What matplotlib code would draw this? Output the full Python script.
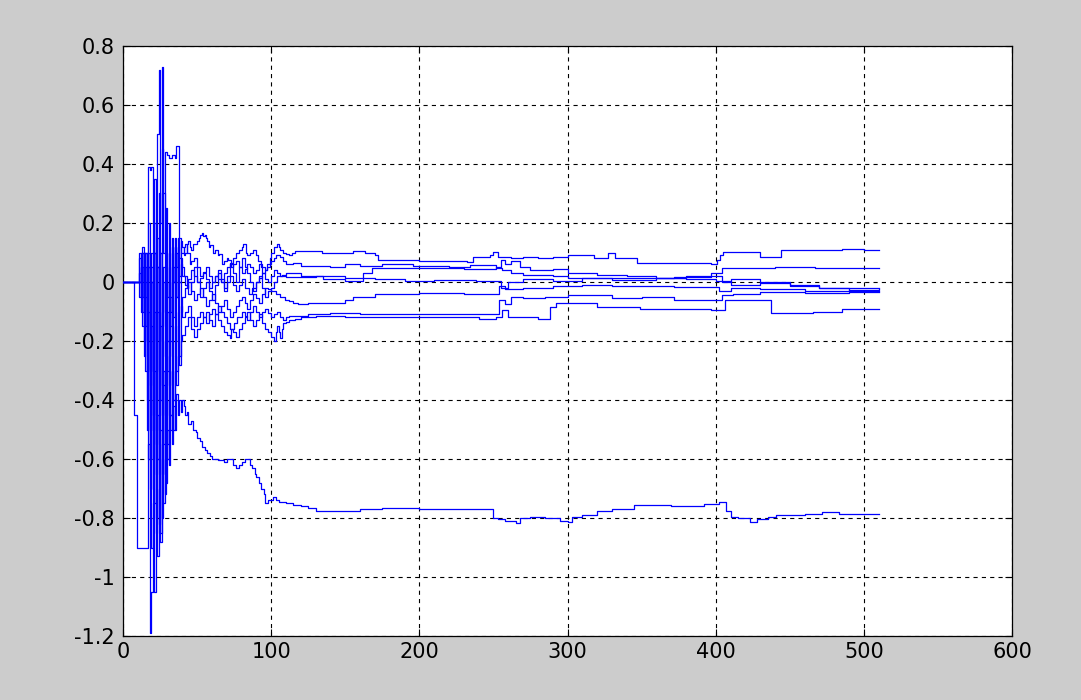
import matplotlib
matplotlib.use("Agg")
import matplotlib.pyplot as plt

plt.rcParams["axes.unicode_minus"] = False
plt.rcParams["lines.scale_dashes"] = False

# x positions of the noisy start (one sample per step)
early_x = list(range(10, 40))

# --- run 0: the one that settles near -0.79 ---
run0_head = [(0, 0.0), (7.5, -0.45), (9.5, -0.9)]
run0_early = [-0.9, -0.9, -0.9, -0.9, -0.9, -0.9, -0.9, -0.55, -1.19, -1.05,
              -0.75, -1.05, -0.7, -0.93, -0.6, -0.88, -0.55, -0.75, -0.6, -0.68,
              -0.5, -0.62, -0.45, -0.55, -0.42, -0.5, -0.38, -0.45, -0.4, -0.44]
run0_tail = [(40, -0.4), (41, -0.42), (42, -0.45), (43, -0.44), (44, -0.48), (46, -0.47),
             (47, -0.5), (49, -0.51), (50, -0.53), (52, -0.54), (53, -0.56), (55, -0.57),
             (57, -0.58), (59, -0.59), (60, -0.6), (64, -0.605), (68, -0.61), (70, -0.6),
             (74, -0.62), (76, -0.63), (78, -0.62), (80, -0.61), (82, -0.6), (86, -0.62),
             (87, -0.63), (89, -0.65), (90, -0.66), (92, -0.68), (93, -0.7), (95, -0.72),
             (96, -0.75), (98, -0.74), (101, -0.73), (103, -0.74), (105, -0.745),
             (110, -0.75), (115, -0.755), (120, -0.76), (125, -0.765), (130, -0.775),
             (160, -0.77), (175, -0.765), (200, -0.77), (250, -0.8), (253, -0.805),
             (258, -0.81), (265, -0.817), (268, -0.8), (275, -0.795), (285, -0.8),
             (295, -0.81), (300, -0.815), (303, -0.795), (310, -0.79), (320, -0.775),
             (330, -0.77), (345, -0.755), (370, -0.758), (392, -0.752), (402, -0.745),
             (407, -0.775), (410, -0.795), (415, -0.8), (423, -0.815), (428, -0.805),
             (435, -0.795), (441, -0.79), (460, -0.785), (472, -0.78), (483, -0.788),
             (510, -0.788)]

# --- run 1: top one, ends near 0.107 ---
run1_early = [0.0, 0.08, -0.1, 0.1, -0.25, 0.05, -0.4, 0.2, -0.6, 0.1,
              -0.3, 0.35, -0.2, 0.5, 0.72, 0.2, 0.73, 0.3, -0.1, 0.25,
              -0.05, 0.2, -0.1, 0.15, 0.0, 0.12, 0.05, 0.15, 0.08, 0.14]
run1_tail = [(40, 0.12), (41, 0.09), (42, 0.1), (43, 0.13), (44, 0.14), (45, 0.12),
             (46, 0.11), (47, 0.13), (50, 0.14), (51, 0.15), (52, 0.16), (53, 0.166),
             (54, 0.155), (55, 0.16), (56, 0.15), (57, 0.14), (58, 0.12), (59, 0.125),
             (61, 0.1), (62, 0.11), (64, 0.09), (65, 0.095), (67, 0.06), (68, 0.07),
             (70, 0.08), (71, 0.075), (73, 0.05), (74, 0.06), (76, 0.07), (78, 0.05),
             (80, 0.03), (82, 0.045), (84, 0.06), (86, 0.05), (88, 0.03), (90, 0.04),
             (92, 0.06), (94, 0.05), (96, 0.04), (97, 0.06), (99, 0.08), (100, 0.1),
             (102, 0.12), (104, 0.13), (105, 0.12), (106, 0.11), (108, 0.1),
             (110, 0.095), (112, 0.09), (114, 0.1), (116, 0.105), (134, 0.097),
             (155, 0.105), (163, 0.097), (170, 0.09), (172, 0.075), (200, 0.072),
             (215, 0.07), (232, 0.068), (236, 0.086), (248, 0.09), (250, 0.103),
             (253, 0.085), (262, 0.08), (270, 0.086), (280, 0.08), (290, 0.085),
             (300, 0.09), (318, 0.08), (327, 0.097), (332, 0.08), (347, 0.063),
             (397, 0.06), (401, 0.075), (403, 0.09), (405, 0.103), (430, 0.086),
             (444, 0.108), (485, 0.112), (500, 0.107), (510, 0.107)]

# --- run 2: ends near 0.046 ---
run2_early = [0.0, 0.0, 0.05, -0.05, 0.1, -0.15, 0.05, 0.39, 0.38, 0.39,
              -0.5, 0.1, -0.65, 0.05, -0.3, 0.1, -0.45, 0.0, -0.25, 0.05,
              -0.2, 0.1, -0.15, 0.12, 0.0, 0.15, -0.05, 0.1, 0.0, 0.08]
run2_tail = [(40, 0.05), (41, 0.02), (43, -0.02), (44, 0.01), (46, 0.04), (48, 0.02),
             (50, 0.0), (52, 0.015), (54, 0.03), (56, 0.01), (58, -0.02), (60, 0.0),
             (62, 0.02), (64, 0.01), (66, 0.0), (68, 0.03), (70, 0.05), (72, 0.065),
             (74, 0.08), (76, 0.1), (78, 0.11), (80, 0.12), (81, 0.13), (83, 0.1),
             (84, 0.09), (86, 0.1), (88, 0.11), (90, 0.09), (91, 0.07), (93, 0.05),
             (94, 0.03), (96, 0.04), (97, 0.05), (99, 0.06), (100, 0.07), (102, 0.08),
             (103, 0.09), (106, 0.085), (108, 0.07), (110, 0.06), (115, 0.065),
             (120, 0.055), (140, 0.05), (150, 0.06), (160, 0.055), (175, 0.06),
             (196, 0.055), (220, 0.05), (234, 0.058), (252, 0.046), (256, 0.04),
             (262, 0.03), (270, 0.024), (290, 0.02), (300, 0.015), (330, 0.015),
             (372, 0.018), (397, 0.029), (404, 0.046), (440, 0.052), (467, 0.046),
             (510, 0.046)]

# --- run 3: the 0.44 plateau, ends near -0.02 ---
run3_early = [0.0, 0.0, -0.05, 0.05, -0.2, 0.1, -0.5, -0.1, -0.7, 0.0,
              -0.45, 0.2, -0.8, -0.1, 0.3, -0.4, 0.45, 0.1, 0.44, 0.44,
              0.43, 0.42, 0.42, 0.43, 0.43, 0.42, 0.46, 0.46, 0.15, 0.1]
run3_tail = [(40, 0.1), (41, 0.12), (42, 0.13), (43, 0.1), (45, 0.06), (46, 0.07),
             (48, 0.08), (50, 0.05), (52, 0.02), (54, 0.035), (56, 0.05), (58, 0.02),
             (60, 0.0), (62, 0.02), (64, 0.04), (66, 0.01), (68, -0.02), (70, 0.0),
             (72, 0.02), (74, -0.01), (76, -0.03), (78, -0.01), (80, 0.01), (82, -0.02),
             (85, -0.04), (87, -0.02), (90, 0.0), (92, 0.015), (94, 0.03), (96, 0.01),
             (98, 0.0), (100, 0.02), (102, 0.04), (104, 0.03), (106, 0.02),
             (110, 0.018), (130, 0.02), (150, 0.015), (170, 0.01), (190, 0.005),
             (210, 0.008), (238, 0.005), (255, -0.02), (260, 0.0), (270, 0.01),
             (290, 0.005), (310, 0.012), (330, 0.008), (360, 0.015), (380, 0.01),
             (400, 0.005), (410, -0.01), (430, -0.005), (450, -0.015), (470, -0.02),
             (490, -0.022), (510, -0.02)]

# --- run 4: ends near -0.025 ---
run4_early = [0.0, -0.05, 0.1, -0.15, 0.05, -0.3, 0.1, -0.6, -0.2, -0.9,
              -0.4, -0.75, -0.2, -0.6, -0.1, -0.85, -0.3, -0.55, -0.2, -0.45,
              -0.1, -0.35, -0.05, -0.25, 0.05, -0.2, 0.1, -0.15, 0.0, -0.1]
run4_tail = [(40, -0.05), (42, -0.02), (44, 0.0), (46, -0.03), (48, -0.06), (50, -0.04),
             (52, -0.02), (54, -0.05), (56, -0.08), (58, -0.06), (60, -0.04), (62, -0.07),
             (64, -0.1), (66, -0.08), (68, -0.06), (70, -0.09), (72, -0.12), (74, -0.1),
             (76, -0.08), (78, -0.06), (80, -0.05), (82, -0.07), (84, -0.09), (86, -0.06),
             (88, -0.04), (90, -0.055), (92, -0.07), (94, -0.04), (96, -0.02),
             (98, -0.025), (100, -0.03), (103, -0.04), (106, -0.05), (109, -0.06),
             (112, -0.065), (115, -0.07), (118, -0.075), (125, -0.072), (135, -0.07),
             (150, -0.06), (155, -0.05), (170, -0.04), (200, -0.038), (230, -0.04),
             (252, -0.04), (254, -0.015), (258, -0.025), (270, -0.02), (290, -0.015),
             (310, -0.01), (330, -0.015), (350, -0.012), (372, -0.016), (402, -0.03),
             (410, -0.02), (430, -0.025), (460, -0.03), (490, -0.028), (510, -0.025)]

# --- run 5: ends near -0.035 ---
run5_early = [0.0, 0.0, 0.05, -0.1, 0.1, -0.05, -0.3, 0.05, -0.5, -0.15,
              -0.7, -0.3, -0.55, 0.05, -0.5, -0.15, -0.65, -0.3, -0.72, -0.4,
              -0.6, -0.3, -0.5, -0.2, -0.4, -0.15, -0.3, -0.1, -0.25, -0.08]
run5_tail = [(40, -0.12), (42, -0.1), (44, -0.08), (46, -0.12), (48, -0.15), (50, -0.12),
             (52, -0.1), (54, -0.12), (56, -0.14), (58, -0.11), (60, -0.09), (62, -0.11),
             (64, -0.13), (66, -0.15), (68, -0.17), (70, -0.18), (72, -0.19), (73, -0.16),
             (75, -0.14), (77, -0.12), (80, -0.1), (82, -0.115), (84, -0.13), (86, -0.1),
             (88, -0.08), (90, -0.1), (92, -0.12), (94, -0.1), (96, -0.09), (98, -0.105),
             (100, -0.12), (102, -0.11), (104, -0.1), (106, -0.12), (108, -0.13),
             (110, -0.12), (112, -0.115), (125, -0.11), (140, -0.105), (160, -0.11),
             (180, -0.108), (200, -0.11), (230, -0.108), (252, -0.11), (254, -0.06),
             (258, -0.075), (262, -0.05), (270, -0.055), (285, -0.05), (300, -0.045),
             (330, -0.055), (350, -0.05), (372, -0.06), (404, -0.045), (412, -0.04),
             (430, -0.035), (460, -0.038), (490, -0.035), (510, -0.035)]

# --- run 6: ends near -0.09 ---
run6_early = [0.0, 0.03, -0.05, 0.1, -0.1, 0.0, -0.2, 0.1, -0.35, 0.05,
              -0.6, -0.1, -0.85, -0.45, -0.82, -0.5, -0.8, -0.35, -0.65, -0.25,
              -0.55, -0.2, -0.45, -0.3, -0.5, -0.25, -0.35, -0.15, -0.28, -0.2]
run6_tail = [(40, -0.18), (42, -0.15), (44, -0.12), (46, -0.16), (48, -0.185), (50, -0.16),
             (52, -0.14), (54, -0.12), (56, -0.1), (58, -0.13), (60, -0.15), (62, -0.11),
             (64, -0.08), (66, -0.1), (68, -0.12), (70, -0.14), (72, -0.16), (74, -0.17),
             (76, -0.185), (78, -0.16), (80, -0.14), (82, -0.12), (84, -0.1), (86, -0.13),
             (88, -0.15), (90, -0.13), (92, -0.11), (94, -0.14), (96, -0.16), (98, -0.17),
             (100, -0.185), (102, -0.2), (103, -0.17), (104, -0.15), (105, -0.17),
             (106, -0.19), (107, -0.16), (108, -0.14), (110, -0.135), (112, -0.13),
             (116, -0.125), (120, -0.12), (130, -0.115), (150, -0.12), (180, -0.118),
             (210, -0.12), (240, -0.125), (252, -0.12), (256, -0.095), (260, -0.12),
             (280, -0.125), (288, -0.085), (292, -0.072), (320, -0.085), (349, -0.09),
             (397, -0.095), (406, -0.06), (437, -0.106), (466, -0.1), (485, -0.09),
             (510, -0.09)]

# --- run 7: ends near -0.03 ---
run7_early = [0.0, 0.1, -0.05, 0.12, 0.0, 0.1, -0.15, 0.05, -0.3, 0.0,
              -0.2, 0.1, -0.4, 0.15, -0.2, 0.1, -0.35, 0.05, -0.15, 0.1,
              -0.3, 0.0, -0.2, 0.05, -0.12, 0.1, -0.05, 0.12, 0.02, 0.06]
run7_tail = [(40, 0.02), (42, -0.01), (44, -0.04), (46, 0.0), (48, 0.05), (50, 0.0),
             (52, -0.05), (54, -0.02), (56, 0.0), (58, -0.03), (60, -0.06), (62, -0.01),
             (64, 0.03), (66, 0.0), (68, -0.03), (70, 0.02), (72, 0.06), (74, 0.03),
             (76, 0.0), (78, 0.05), (80, 0.08), (82, 0.05), (84, 0.03), (86, 0.0),
             (88, -0.03), (90, 0.0), (92, 0.02), (94, -0.02), (96, -0.05), (98, -0.03),
             (100, -0.02), (102, 0.0), (104, 0.02), (107, 0.025), (110, 0.03),
             (120, 0.02), (135, 0.01), (150, 0.005), (162, 0.03), (168, 0.046),
             (230, 0.045), (252, 0.05), (255, 0.075), (258, 0.06), (262, 0.07),
             (268, 0.05), (275, 0.04), (290, 0.045), (300, 0.03), (320, 0.025),
             (340, 0.02), (360, 0.015), (380, 0.02), (400, 0.02), (404, 0.0),
             (410, 0.01), (430, 0.0), (450, -0.01), (470, -0.02), (490, -0.03),
             (510, -0.03)]

start = [(0, 0.0)]
runs = [
    (run0_head, run0_early, run0_tail),
    (start, run1_early, run1_tail),
    (start, run2_early, run2_tail),
    (start, run3_early, run3_tail),
    (start, run4_early, run4_tail),
    (start, run5_early, run5_tail),
    (start, run6_early, run6_tail),
    (start, run7_early, run7_tail),
]

yticks = [-1.2, -1.0, -0.8, -0.6, -0.4, -0.2, 0.0, 0.2, 0.4, 0.6, 0.8]
ytick_labels = ["-1.2", "-1", "-0.8", "-0.6", "-0.4", "-0.2", "0", "0.2", "0.4", "0.6", "0.8"]
xticks = [0, 100, 200, 300, 400, 500, 600]

fig = plt.figure(figsize=(10.81, 7.0), dpi=100, facecolor="#cccccc")
ax = fig.add_axes([0.1138, 0.0914, 0.8224, 0.8429])
ax.set_facecolor("white")

for head, early, tail in runs:
    xs = [p[0] for p in head] + early_x + [p[0] for p in tail]
    ys = [p[1] for p in head] + early + [p[1] for p in tail]
    ax.plot(xs, ys, color="#0000ff", lw=0.9, drawstyle="steps-post", zorder=3)

ax.set_xlim(0, 600)
ax.set_ylim(-1.2, 0.8)
ax.set_xticks(xticks)
ax.set_xticklabels([str(t) for t in xticks])
ax.set_yticks(yticks)
ax.set_yticklabels(ytick_labels)

ax.grid(True, color="black", lw=0.8, linestyle=(0, (3, 3)), zorder=1)
ax.tick_params(direction="in", top=True, right=True, length=5, width=0.8,
               labelsize=15, colors="black")
ax.tick_params(axis="x", pad=4)
ax.tick_params(axis="y", pad=6)
for s in ax.spines.values():
    s.set_color("black")
    s.set_linewidth(0.9)

plt.savefig("out.png", dpi=100, facecolor=fig.get_facecolor())
